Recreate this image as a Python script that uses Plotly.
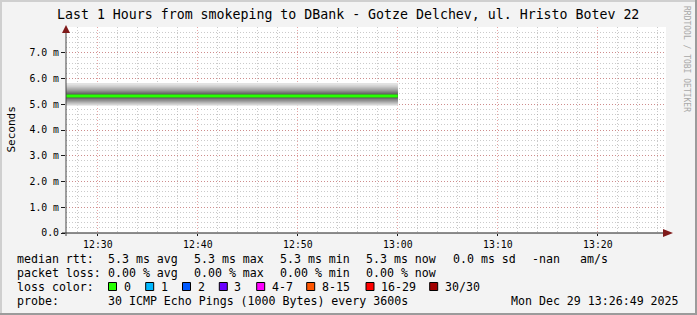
import plotly.graph_objects as go

# ---------------- data ----------------
title_text = "Last 1 Hours from smokeping to DBank - Gotze Delchev, ul. Hristo Botev 22"
x_range = ["2025-12-29 12:26:49", "2025-12-29 13:26:49"]
# one RRD sample (step 3600 s): start and end of the interval it covers
sample_bounds = ["2025-12-29 12:00:00", "2025-12-29 13:00:00"]
# 30 sorted ping RTTs (ms) of that sample
ping_rtt_ms = [4.94, 4.97, 5.00, 5.03, 5.06, 5.09, 5.12, 5.15, 5.18, 5.21,
               5.23, 5.25, 5.27, 5.29, 5.31, 5.33, 5.35, 5.37, 5.39, 5.42,
               5.45, 5.48, 5.51, 5.54, 5.58, 5.62, 5.66, 5.70, 5.76, 5.83]
median_rtt_ms = 5.32
y_tick_vals = [0, 1, 2, 3, 4, 5, 6, 7]
y_tick_text = ["0.0", "1.0 m", "2.0 m", "3.0 m", "4.0 m", "5.0 m", "6.0 m", "7.0 m"]
y_label = "Seconds"

rtt_row = ["median rtt:", "5.3 ms avg", "5.3 ms max", "5.3 ms min", "5.3 ms now",
           "0.0 ms sd", "-nan", "am/s"]
loss_row = ["packet loss:", "0.00 % avg", "0.00 % max", "0.00 % min", "0.00 % now"]
loss_labels = ["0", "1", "2", "3", "4-7", "8-15", "16-29", "30/30"]
loss_colors = ["#26ff00", "#00b8ff", "#0059ff", "#6a00ff", "#ff00ff", "#ff5500", "#ff0000", "#a10000"]
probe_text = ["probe:", "30 ICMP Echo Pings (1000 Bytes) every 3600s"]
date_text = "Mon Dec 29 13:26:49 2025"
watermark = "RRDTOOL / TOBI OETIKER"

# ---------------- layout geometry (pixels) ----------------
W, H = 697, 315
PL, PR, PT, PB = 66, 666, 27, 233
MONO = "DejaVu Sans Mono"


def px(x):
    return (x - PL) / (PR - PL)


def py(y):
    return (PB - y) / (PB - PT)


fig = go.Figure()

# smoke: nested pairs, outer light -> inner dark
n = len(ping_rtt_ms)
half = n // 2
for i in range(half):
    lo = ping_rtt_ms[i]
    hi = ping_rtt_ms[n - 1 - i]
    g = int(190 / half * (half - 1 - i)) + 50
    col = "#%02x%02x%02x" % (g, g, g)
    fig.add_trace(go.Scatter(x=sample_bounds, y=[lo, lo], mode="lines",
                             line=dict(width=0, color=col), hoverinfo="skip"))
    fig.add_trace(go.Scatter(x=sample_bounds, y=[hi, hi], mode="lines",
                             line=dict(width=0, color=col), fill="tonexty",
                             fillcolor=col, hoverinfo="skip"))

fig.add_trace(go.Scatter(x=sample_bounds, y=[median_rtt_ms, median_rtt_ms], mode="lines",
                         line=dict(width=3, color=loss_colors[0]), hoverinfo="skip"))

shapes = []
annotations = []

# axis lines + arrows
AX = "#1a1a1a"
ARROW = "#7f1a1a"
shapes.append(dict(type="line", xref="paper", yref="paper", x0=px(62), x1=px(669),
                   y0=py(233), y1=py(233), line=dict(color=AX, width=1)))
shapes.append(dict(type="line", xref="paper", yref="paper", x0=px(66), x1=px(66),
                   y0=py(236), y1=py(30), line=dict(color="#444", width=1)))
shapes.append(dict(type="path", xref="paper", yref="paper",
                   path="M %f,%f L %f,%f L %f,%f Z" % (px(663), py(233 - 4), px(673), py(233), px(663), py(233 + 4)),
                   fillcolor=ARROW, line=dict(width=0)))
shapes.append(dict(type="path", xref="paper", yref="paper",
                   path="M %f,%f L %f,%f L %f,%f Z" % (px(62), py(33), px(66), py(25), px(70), py(33)),
                   fillcolor=ARROW, line=dict(width=0)))

# frame
shapes += [
    dict(type="rect", xref="paper", yref="paper", x0=px(0), x1=px(W), y0=py(0), y1=py(2),
         fillcolor="#cfcfcf", line=dict(width=0)),
    dict(type="rect", xref="paper", yref="paper", x0=px(0), x1=px(2), y0=py(0), y1=py(H),
         fillcolor="#cfcfcf", line=dict(width=0)),
    dict(type="rect", xref="paper", yref="paper", x0=px(0), x1=px(W), y0=py(H - 2), y1=py(H),
         fillcolor="#9b9b9b", line=dict(width=0)),
    dict(type="rect", xref="paper", yref="paper", x0=px(W - 2), x1=px(W), y0=py(0), y1=py(H),
         fillcolor="#9b9b9b", line=dict(width=0)),
]


def text(x, y, s, anchor="left", size=11.6, color="#000", angle=0):
    annotations.append(dict(x=px(x), y=py(y), xref="paper", yref="paper", text=s,
                            showarrow=False, xanchor=anchor, yanchor="middle",
                            textangle=angle, borderpad=0,
                            font=dict(family=MONO, size=size, color=color)))


text(348, 14, title_text, anchor="center", size=13.25)
text(10.5, 130, y_label, anchor="center", size=11, angle=-90)
text(687, 59, watermark, anchor="center", size=8, color="#a8a8a8", angle=90)

col_x = [16, 107.3, 193.3, 279.3, 365.3, 451.7, 530.7, 579.3]
for s, x in zip(rtt_row, col_x):
    text(x, 259.3, s)
for s, x in zip(loss_row, col_x):
    text(x, 273.3, s)
text(16, 286.7, "loss color:")
box_x = [108.5, 145.7, 182.5, 219.3, 256.7, 306.7, 366.0, 429.7]
for lab, c, bx in zip(loss_labels, loss_colors, box_x):
    shapes.append(dict(type="rect", xref="paper", yref="paper", x0=px(bx), x1=px(bx + 8),
                       y0=py(290.5), y1=py(282.5), fillcolor=c, line=dict(color="#000", width=1)))
    text(bx + 14, 286.7, lab)
text(16, 301, probe_text[0])
text(107.3, 301, probe_text[1])
text(680, 301, date_text, anchor="right")

fig.update_layout(
    width=W, height=H, autosize=False,
    margin=dict(l=PL, r=W - PR, t=PT, b=H - PB, pad=0),
    paper_bgcolor="#f3f3f3", plot_bgcolor="#ffffff",
    showlegend=False, hovermode=False,
    shapes=shapes, annotations=annotations,
    xaxis=dict(type="date", range=x_range, tickformat="%H:%M",
               tick0="2025-12-29 12:30:00", dtick=600000,
               showgrid=True, gridcolor="rgba(210,90,90,0.55)", griddash="1px,2px", gridwidth=1,
               minor=dict(dtick=120000, tick0="2025-12-29 12:30:00", showgrid=True,
                          gridcolor="rgba(150,150,150,0.5)", griddash="1px,2px", gridwidth=1),
               ticks="outside", ticklen=2, tickcolor=AX, showline=False, zeroline=False,
               tickfont=dict(family=MONO, size=9.8, color="#000"), fixedrange=True),
    yaxis=dict(range=[0, 8], tickmode="array", tickvals=y_tick_vals, ticktext=y_tick_text,
               showgrid=True, gridcolor="rgba(210,90,90,0.55)", griddash="1px,2px", gridwidth=1,
               minor=dict(dtick=0.2, tick0=0, showgrid=True,
                          gridcolor="rgba(150,150,150,0.5)", griddash="1px,2px", gridwidth=1),
               ticks="outside", ticklen=4, tickcolor=AX, showline=False, zeroline=False,
               tickfont=dict(family=MONO, size=9.8, color="#000"), fixedrange=True),
)

fig.write_html("out.html", config={"displayModeBar": False, "staticPlot": True})
